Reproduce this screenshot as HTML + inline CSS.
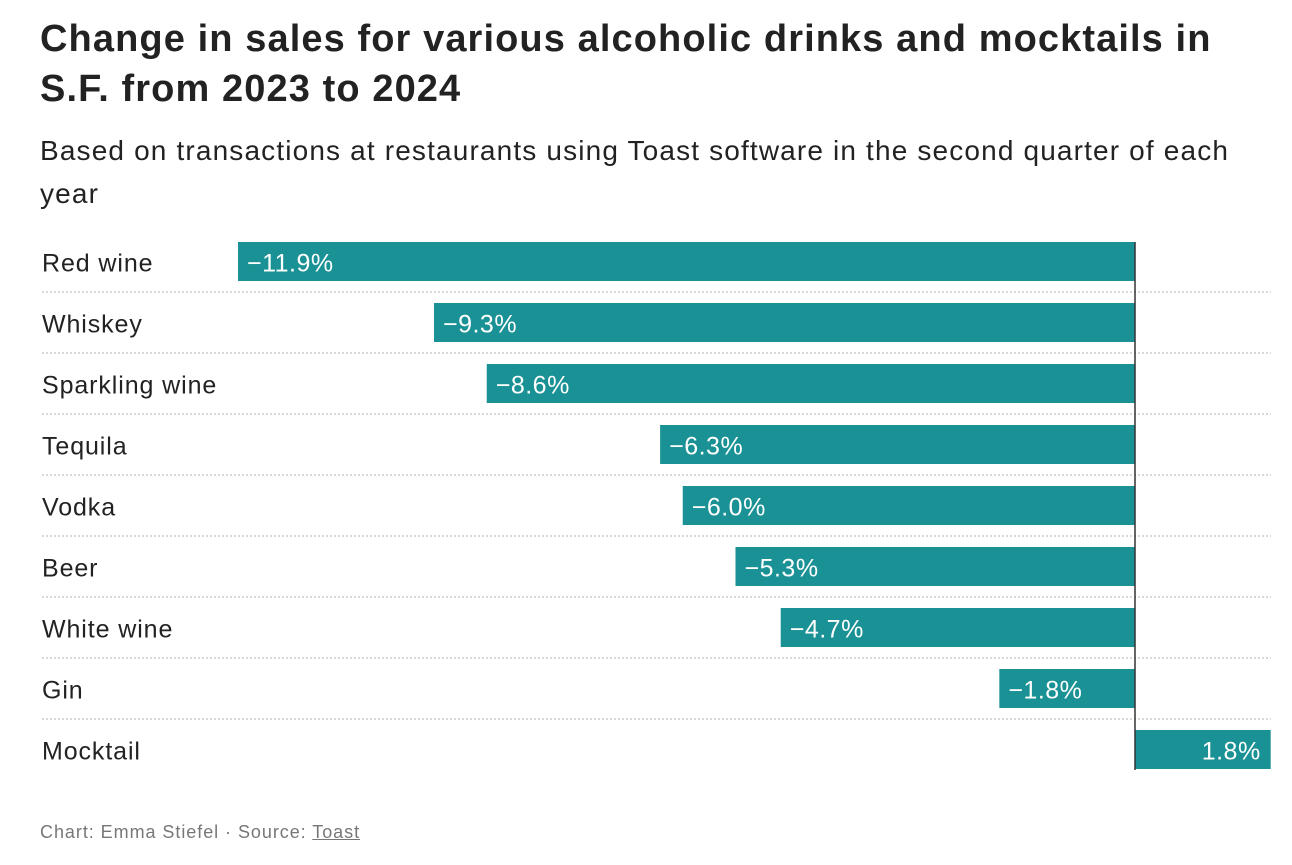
<!DOCTYPE html>
<html><head><meta charset="utf-8"><style>
body{margin:0;background:#fff;width:1292px;height:865px;overflow:hidden;font-family:"Liberation Sans",sans-serif;color:#222;}
h1{position:absolute;left:40px;top:14px;margin:0;font-size:38px;line-height:50px;font-weight:700;width:1260px;letter-spacing:1.1px;white-space:nowrap}
.sub{position:absolute;left:40px;top:129px;font-size:28px;line-height:43px;color:#222;width:1260px;letter-spacing:1.15px;white-space:nowrap}
.foot{position:absolute;left:40px;top:822px;font-size:18px;color:#777;letter-spacing:0.95px}
.foot u{color:#777}
svg{position:absolute;left:0;top:0}
</style></head><body>
<h1>Change in sales for various alcoholic drinks and mocktails in<br>S.F. from 2023 to 2024</h1>
<div class="sub">Based on transactions at restaurants using Toast software in the second quarter of each<br>year</div>
<svg id="chart" width="1292" height="865"></svg>
<div class="foot">Chart: Emma Stiefel · Source: <u>Toast</u></div>
<script>
const categories=["Red wine","Whiskey","Sparkling wine","Tequila","Vodka","Beer","White wine","Gin","Mocktail"];
const values=[-11.9,-9.3,-8.6,-6.3,-6.0,-5.3,-4.7,-1.8,1.8];
const labels=["−11.9%","−9.3%","−8.6%","−6.3%","−6.0%","−5.3%","−4.7%","−1.8%","1.8%"];
const svg=document.getElementById('chart');const NS='http://www.w3.org/2000/svg';
const x0=1135,k=897/11.9;const x=v=>x0+v*k;
const top0=242,pitch=61.0,bh=39;const y=i=>top0+i*pitch;
function mk(t,a){const e=document.createElementNS(NS,t);for(const q in a)e.setAttribute(q,a[q]);svg.appendChild(e);return e;}
categories.forEach((c,i)=>{
 const v=values[i];
 const r=mk('rect',{x:Math.min(x(v),x0),y:y(i),width:Math.abs(x(v)-x0),height:bh,fill:'#1a9195'});
 
 
 const l=mk('text',{x:42,y:y(i)+bh/2+10,'font-size':25,fill:'#222','letter-spacing':0.9});l.textContent=c;
 
 
 const t=mk('text',{x:v<0?x(v)+9:x(v)-10,y:y(i)+bh/2+10,'font-size':25,fill:'#fff','text-anchor':v<0?'start':'end','letter-spacing':0.5});t.textContent=labels[i];
 
 
 if(i<categories.length-1){const s=mk('line',{x1:42,x2:1271,y1:y(i)+bh+11,y2:y(i)+bh+11,stroke:'#ccc','stroke-width':1.5,'stroke-dasharray':'2 2'});
 
 }
});
const z=mk('line',{x1:x0,x2:x0,y1:y(0),y2:y(categories.length-1)+bh+1,stroke:'#333','stroke-width':1.5});


</script>
</body></html>
